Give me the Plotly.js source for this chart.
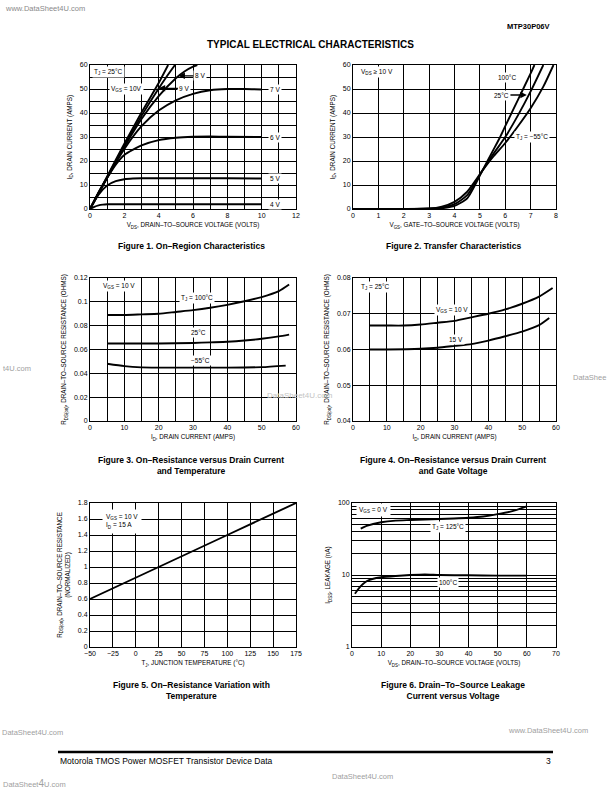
<!DOCTYPE html>
<html><head><meta charset="utf-8">
<script src="https://cdn.plot.ly/plotly-3.0.1.min.js"></script>
<style>html,body{margin:0;padding:0;background:#fff}#chart{width:612px;height:792px}</style>
</head><body><div id="chart"></div>
<script>
// ---------- Figure 1: On-Region Characteristics (ID vs VDS) ----------
const f1_v10_vds = [0,1,2,3,4,4.55];
const f1_v10_id  = [0,13.6,27.2,40.2,52.5,60];
const f1_v9_vds  = [0,1,2,3,4,4.5,4.95];
const f1_v9_id   = [0,13.3,26.5,38.8,50.2,55.5,60];
const f1_v8_vds  = [0,1,2,3,4,5,5.5,6,6.25];
const f1_v8_id   = [0,13,25.8,37.5,47,54.5,57.3,59.3,60];
const f1_v7_vds  = [0,1,2,3,4,5,6,7,8,9,10];
const f1_v7_id   = [0,13,25,34.5,41,45.3,48,49.5,50,50,49.8];
const f1_v6_vds  = [0,0.5,1,1.5,2,3,4,5,6,7,8,10];
const f1_v6_id   = [0,7,13,18.5,22.5,26.5,28.7,29.7,30.1,30.2,30.1,30];
const f1_v5_vds  = [0,0.5,1,1.5,2,2.5,3,4,6,8,10];
const f1_v5_id   = [0,6,9.8,11.6,12.4,12.7,12.8,12.8,12.8,12.8,12.7];
const f1_v4_vds  = [0,0.25,0.5,0.75,1,1.5,2,4,6,8,10];
const f1_v4_id   = [0,0.9,1.5,1.8,1.95,2,2,2,2,2,2];

// ---------- Figure 2: Transfer Characteristics (ID vs VGS) ----------
const f2_m55_vgs = [0,3.0,3.5,4.0,4.5,5.1,5.5,6.0,6.5,7.0,7.5,7.9];
const f2_m55_id  = [0,0.2,1.0,3.0,7.2,16,21.5,27.5,34.5,42,51,60];
const f2_25_vgs  = [0,3.2,3.6,4.0,4.5,5.1,5.5,6.0,6.5,7.0,7.5];
const f2_25_id   = [0,0.2,0.8,2.0,5.8,16,22.5,30,39,49,60];
const f2_100_vgs = [0,3.4,3.7,4.0,4.5,5.1,5.5,5.8,6.0,6.5,7.0,7.15];
const f2_100_id  = [0,0.2,0.6,1.3,4.4,16,24,30,34.5,45.5,56.5,60];

// ---------- Figure 3: RDS(on) vs ID and Temperature ----------
const f3_100_id = [5,10,15,20,25,30,35,40,45,50,55,58];
const f3_100_r  = [0.089,0.089,0.0895,0.090,0.0915,0.093,0.095,0.0975,0.1005,0.104,0.109,0.1145];
const f3_25_id  = [5,10,20,30,35,40,45,50,55,58];
const f3_25_r   = [0.065,0.065,0.065,0.0655,0.066,0.0665,0.0675,0.069,0.071,0.0725];
const f3_m55_id = [5,10,15,20,30,40,50,57];
const f3_m55_r  = [0.048,0.046,0.045,0.0448,0.0448,0.0448,0.0452,0.0465];

// ---------- Figure 4: RDS(on) vs ID and Gate Voltage ----------
const f4_v10_id = [5,10,15,20,25,30,35,40,45,50,55,59];
const f4_v10_r  = [0.0667,0.0667,0.0667,0.0670,0.0675,0.068,0.069,0.0700,0.0712,0.0728,0.0748,0.0772];
const f4_v15_id = [5,10,20,25,30,35,40,45,50,55,58];
const f4_v15_r  = [0.060,0.060,0.0602,0.0605,0.061,0.0615,0.0625,0.0637,0.065,0.0668,0.0688];

// ---------- Figure 5: RDS(on) normalized vs TJ ----------
const f5_tj = [-50,25,100,175];
const f5_r  = [0.6,1.0,1.4,1.8];

// ---------- Figure 6: IDSS leakage vs VDS ----------
const f6_125_vds = [3,5,10,15,20,25,30,35,40,45,50,55,60];
const f6_125_i   = [44,48,54,57,58,59,60,61,62.5,65,70,77,90];
const f6_100_vds = [1,3,5,7,10,15,20,25,30,40,50,60];
const f6_100_i   = [5.5,7,8.2,8.8,9.3,9.7,10,10.2,10,9.9,9.8,9.8];

// ---------- axis titles ----------
const t_vds = 'V<sub>DS</sub>, DRAIN–TO–SOURCE VOLTAGE (VOLTS)';
const t_vgs = 'V<sub>GS</sub>, GATE–TO–SOURCE VOLTAGE (VOLTS)';
const t_id  = 'I<sub>D</sub>, DRAIN CURRENT (AMPS)';
const t_rds = 'R<sub>DS(on)</sub>, DRAIN–TO–SOURCE RESISTANCE (OHMS)';
const t_tj  = 'T<sub>J</sub>, JUNCTION TEMPERATURE (°C)';
const t_rdsn = 'R<sub>DS(on)</sub>, DRAIN–TO–SOURCE RESISTANCE<br>(NORMALIZED)';
const t_idss = 'I<sub>DSS</sub>, LEAKAGE (nA)';

// ---------- layout helpers ----------
const W = 612, H = 792;
const FONT = 'Liberation Sans, Arial, Helvetica, sans-serif';
const px = x => x / W;
const py = y => 1 - y / H;
const atF = {family: FONT, size: 6.3, color: '#000'};

function axisBase(range, dtick, minor, anchor, title, standoff) {
  return {
    range: range, dtick: dtick, tick0: range[0],
    anchor: anchor, showgrid: true, gridcolor: '#000', gridwidth: 1,
    showline: true, linecolor: '#000', linewidth: 1, mirror: true,
    zeroline: false, ticks: '', fixedrange: true, automargin: false,
    tickfont: {family: FONT, size: 7, color: '#000'},
    title: {text: title, font: atF, standoff: standoff},
    minor: minor ? {dtick: minor, tick0: range[0], showgrid: true, gridcolor: '#000', gridwidth: 1, ticks: ''} : undefined
  };
}
function xAxis(x0, x1, range, dtick, minor, anchor, title, extra) {
  return Object.assign(axisBase(range, dtick, minor, anchor, title, 4), {domain: [px(x0), px(x1)]}, extra || {});
}
function yAxis(top, bottom, range, dtick, minor, anchor, title, extra) {
  return Object.assign(axisBase(range, dtick, minor, anchor, title, 6), {domain: [py(bottom), py(top)]}, extra || {});
}

function line(x, y, xa, ya, name) {
  return {x: x, y: y, xaxis: xa, yaxis: ya, name: name, type: 'scatter', mode: 'lines',
    line: {color: '#000', width: 1.9, shape: 'spline', smoothing: 0.6},
    hoverinfo: 'skip', showlegend: false, cliponaxis: true};
}

const data = [
  line(f1_v10_vds, f1_v10_id, 'x', 'y', 'VGS=10V'),
  line(f1_v9_vds, f1_v9_id, 'x', 'y', '9 V'),
  line(f1_v8_vds, f1_v8_id, 'x', 'y', '8 V'),
  line(f1_v7_vds, f1_v7_id, 'x', 'y', '7 V'),
  line(f1_v6_vds, f1_v6_id, 'x', 'y', '6 V'),
  line(f1_v5_vds, f1_v5_id, 'x', 'y', '5 V'),
  line(f1_v4_vds, f1_v4_id, 'x', 'y', '4 V'),
  line(f2_m55_vgs, f2_m55_id, 'x2', 'y2', '-55°C'),
  line(f2_25_vgs, f2_25_id, 'x2', 'y2', '25°C'),
  line(f2_100_vgs, f2_100_id, 'x2', 'y2', '100°C'),
  line(f3_100_id, f3_100_r, 'x3', 'y3', '100°C'),
  line(f3_25_id, f3_25_r, 'x3', 'y3', '25°C'),
  line(f3_m55_id, f3_m55_r, 'x3', 'y3', '-55°C'),
  line(f4_v10_id, f4_v10_r, 'x4', 'y4', 'VGS=10V'),
  line(f4_v15_id, f4_v15_r, 'x4', 'y4', '15 V'),
  line(f5_tj, f5_r, 'x5', 'y5', 'RDS(on)'),
  line(f6_125_vds, f6_125_i, 'x6', 'y6', '125°C'),
  line(f6_100_vds, f6_100_i, 'x6', 'y6', '100°C')
];

const logMinor = [2,3,4,5,6,7,8,9,20,30,40,50,60,70,80,90];

const layout = {
  width: W, height: H, margin: {l: 0, r: 0, t: 0, b: 0},
  paper_bgcolor: '#fff', plot_bgcolor: '#fff', showlegend: false,
  font: {family: FONT, color: '#000', size: 7},
  xaxis:  xAxis(90, 296, [0, 12], 2, 1, 'y', t_vds),
  yaxis:  yAxis(65, 209, [0, 60], 10, 5, 'x', t_id),
  xaxis2: xAxis(353, 556, [0, 8], 1, null, 'y2', t_vgs),
  yaxis2: yAxis(65, 209, [0, 60], 10, null, 'x2', t_id),
  xaxis3: xAxis(90, 296, [0, 60], 10, 5, 'y3', t_id),
  yaxis3: yAxis(278, 421, [0, 0.12], 0.02, null, 'x3', t_rds),
  xaxis4: xAxis(353, 556, [0, 60], 10, 5, 'y4', t_id),
  yaxis4: yAxis(278, 421, [0.04, 0.08], 0.01, null, 'x4', t_rds),
  xaxis5: xAxis(90, 296, [-50, 175], 25, null, 'y5', t_tj),
  yaxis5: yAxis(503, 647, [0, 1.8], 0.2, null, 'x5', t_rdsn),
  xaxis6: xAxis(352, 556, [0, 70], 10, null, 'y6', t_vds),
  yaxis6: yAxis(503, 647, [0, 2], null, null, 'x6', t_idss, {
    type: 'log', tickvals: [1, 10, 100], ticktext: ['1', '10', '100'],
    minor: {tickvals: logMinor, showgrid: true, gridcolor: '#000', gridwidth: 1, ticks: ''}
  }),
  shapes: [
    {type: 'line', xref: 'paper', yref: 'paper', x0: px(58), x1: px(553), y0: py(752), y1: py(752),
     line: {color: '#000', width: 2.5}}
  ],
  annotations: []
};

const A = layout.annotations;
function txt(text, x, y, opts) {
  A.push(Object.assign({text: text, x: x, y: y, xref: 'paper', yref: 'paper', showarrow: false,
    xanchor: 'center', yanchor: 'middle', font: {family: FONT, size: 7, color: '#000'}}, opts || {}));
}
function lab(text, x, y, xr, yr, opts) {
  A.push(Object.assign({text: text, x: x, y: y, xref: xr, yref: yr, showarrow: false,
    xanchor: 'center', yanchor: 'middle', bgcolor: '#fff', borderpad: 1,
    font: {family: FONT, size: 6.5, color: '#000'}}, opts || {}));
}
function arrowLab(text, hx, hy, tx, ty, xr, yr) {
  A.push({text: text, x: hx, y: hy, ax: tx, ay: ty, xref: xr, yref: yr, axref: xr, ayref: yr,
    showarrow: true, arrowhead: 2, arrowsize: 1, arrowwidth: 1.3, arrowcolor: '#000', standoff: 0,
    bgcolor: '#fff', borderpad: 1, font: {family: FONT, size: 6.5, color: '#000'}});
}

// page header / footer
txt('www.DataSheet4U.com', px(3), py(9), {xanchor: 'left', font: {family: FONT, size: 7.5, color: '#8a8a8a'}});
txt('<b>MTP30P06V</b>', px(552), py(27), {xanchor: 'right', font: {family: FONT, size: 7.5, color: '#000'}});
txt('<b>TYPICAL ELECTRICAL CHARACTERISTICS</b>', px(310), py(44), {font: {family: FONT, size: 10, color: '#000'}});
txt('Motorola TMOS Power MOSFET Transistor Device Data', px(58), py(761), {xanchor: 'left', font: {family: FONT, size: 8.5, color: '#000'}});
txt('3', px(553), py(761), {xanchor: 'right', font: {family: FONT, size: 8.5, color: '#000'}});

// captions
const capFont = {family: FONT, size: 8.5, color: '#000'};
txt('<b>Figure 1. On–Region Characteristics</b>', px(191), py(246), {font: capFont});
txt('<b>Figure 2. Transfer Characteristics</b>', px(453), py(246), {font: capFont});
txt('<b>Figure 3. On–Resistance versus Drain Current<br>and Temperature</b>', px(191), py(466), {font: capFont});
txt('<b>Figure 4. On–Resistance versus Drain Current<br>and Gate Voltage</b>', px(453), py(466), {font: capFont});
txt('<b>Figure 5. On–Resistance Variation with<br>Temperature</b>', px(191), py(690), {font: capFont});
txt('<b>Figure 6. Drain–To–Source Leakage<br>Current versus Voltage</b>', px(453), py(690), {font: capFont});

// figure 1 labels
lab('T<sub>J</sub> = 25°C', 1.1, 57, 'x', 'y');
lab('V<sub>GS</sub> = 10V', 2.1, 50, 'x', 'y');
arrowLab('9 V', 4.0, 50.3, 5.5, 50.3, 'x', 'y');
arrowLab('8 V', 5.15, 55.5, 6.4, 55.5, 'x', 'y');
lab('7 V', 10.75, 50, 'x', 'y');
lab('6 V', 10.75, 30, 'x', 'y');
lab('5 V', 10.75, 12.8, 'x', 'y');
lab('4 V', 10.75, 2, 'x', 'y');

// figure 2 labels
lab('V<sub>DS</sub> ≥ 10 V', 0.95, 57, 'x2', 'y2');
lab('100°C', 6.05, 55, 'x2', 'y2');
arrowLab('25°C', 6.85, 47.5, 5.85, 47.5, 'x2', 'y2');
lab('T<sub>J</sub> = −55°C', 7.05, 30, 'x2', 'y2');

// figure 3 labels
lab('V<sub>GS</sub> = 10 V', 8.3, 0.113, 'x3', 'y3');
lab('T<sub>J</sub> = 100°C', 31.2, 0.103, 'x3', 'y3');
lab('25°C', 31.7, 0.0745, 'x3', 'y3');
lab('−55°C', 32.2, 0.051, 'x3', 'y3');

// figure 4 labels
lab('T<sub>J</sub> = 25°C', 6.7, 0.0775, 'x4', 'y4');
lab('V<sub>GS</sub> = 10 V', 29.4, 0.0711, 'x4', 'y4');
lab('15 V', 30.4, 0.0628, 'x4', 'y4');

// figure 5 label
lab('V<sub>GS</sub> = 10 V<br>I<sub>D</sub> = 15 A', -37, 1.57, 'x5', 'y5', {xanchor: 'left', align: 'left', borderpad: 3});

// figure 6 labels (log axis: y in log10 units)
lab('V<sub>GS</sub> = 0 V', 7.4, Math.log10(79), 'x6', 'y6', {borderpad: 2});
lab('T<sub>J</sub> = 125°C', 33, Math.log10(46), 'x6', 'y6');
lab('100°C', 33, Math.log10(7.9), 'x6', 'y6');

// scan watermarks (only the parts visible on the page)
const wm = {family: FONT, size: 7.5, color: '#a0a0a0'};
txt('t4U.com', px(1), py(368), {xanchor: 'left', font: wm});
txt('DataShee', px(571), py(377), {xanchor: 'left', font: wm});
txt('DataSheet4U.com', px(265), py(395), {xanchor: 'left', font: {family: FONT, size: 8, color: '#c4c4c4'}});
txt('DataSheet4U.com', px(0), py(732), {xanchor: 'left', font: wm});
txt('www.DataSheet4U.com', px(506), py(730), {xanchor: 'left', font: wm});
txt('DataSheet4U.com', px(330), py(776), {xanchor: 'left', font: wm});
txt('DataSheet<span style="font-size:10px">4</span>U.com', px(1), py(783), {xanchor: 'left', font: wm});

Plotly.newPlot('chart', data, layout, {staticPlot: true, displayModeBar: false});
</script>
</body></html>
